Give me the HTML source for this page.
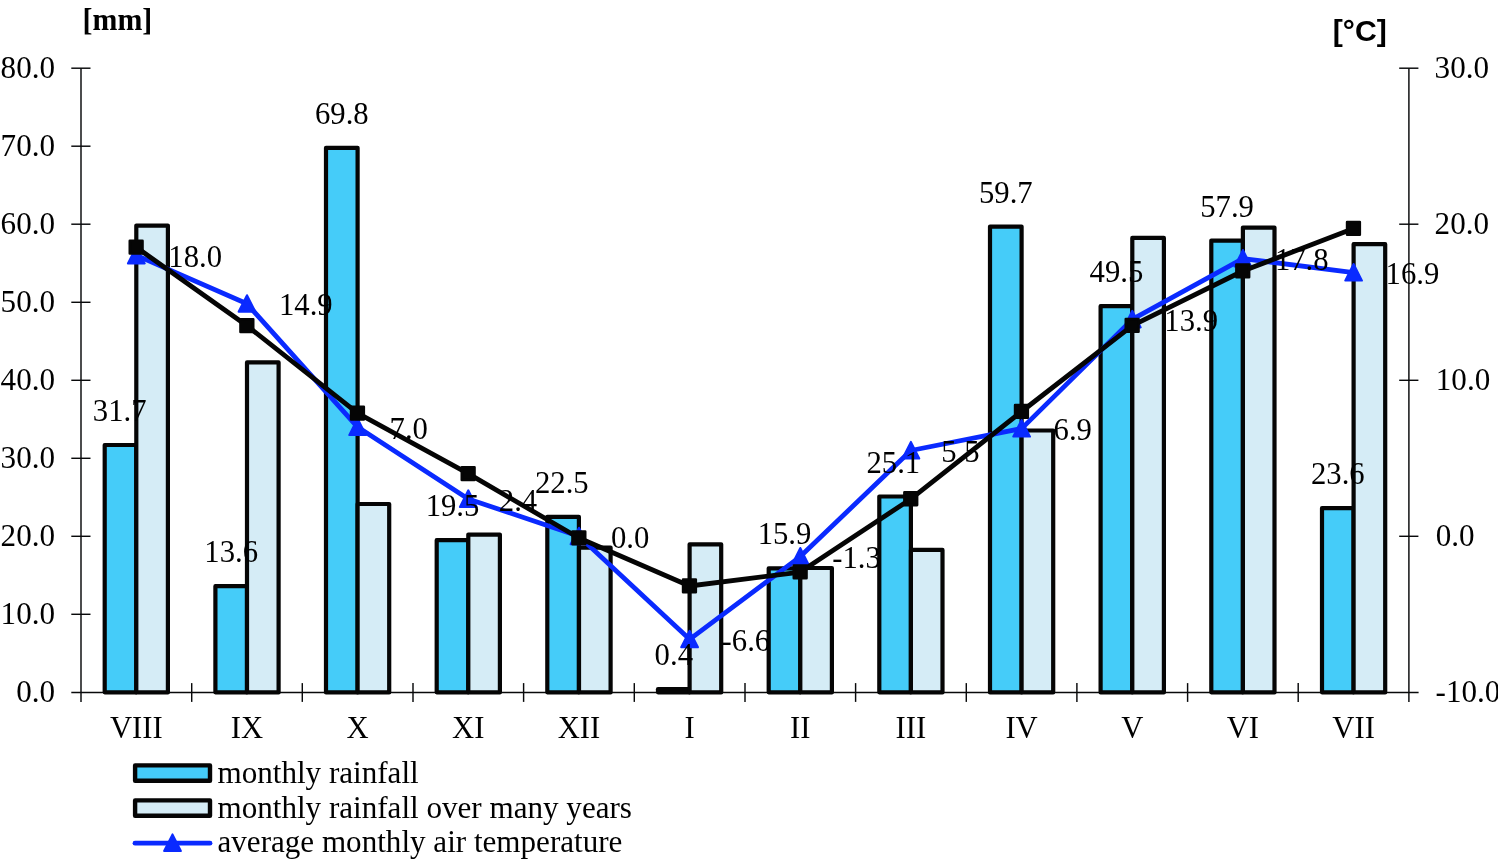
<!DOCTYPE html>
<html lang="en"><head><meta charset="utf-8"><title>Monthly rainfall and air temperature</title>
<style>html,body{margin:0;padding:0;background:#fff;overflow:hidden}svg{display:block;will-change:transform}text{font-family:"Liberation Serif","Times New Roman",serif;font-size:30.7px;fill:#000}.l{font-size:31.1px}.b{font-weight:bold}.s{font-family:"Liberation Sans",Arial,sans-serif;font-weight:bold}</style></head><body>
<svg width="1498" height="862" viewBox="0 0 1498 862">
<rect width="1498" height="862" fill="#fff"/>
<g stroke="#08090a" stroke-width="1.45" fill="none">
<line x1="81.0" y1="68.2" x2="81.0" y2="701.9"/>
<line x1="1408.9" y1="68.2" x2="1408.9" y2="701.9"/>
<line x1="71.3" y1="692.4" x2="1418.6" y2="692.4"/>
<line x1="71.3" y1="68.2" x2="90.5" y2="68.2"/>
<line x1="71.3" y1="146.2" x2="90.5" y2="146.2"/>
<line x1="71.3" y1="224.2" x2="90.5" y2="224.2"/>
<line x1="71.3" y1="302.3" x2="90.5" y2="302.3"/>
<line x1="71.3" y1="380.3" x2="90.5" y2="380.3"/>
<line x1="71.3" y1="458.3" x2="90.5" y2="458.3"/>
<line x1="71.3" y1="536.3" x2="90.5" y2="536.3"/>
<line x1="71.3" y1="614.3" x2="90.5" y2="614.3"/>
<line x1="1399.2" y1="68.2" x2="1418.4" y2="68.2"/>
<line x1="1399.2" y1="224.2" x2="1418.4" y2="224.2"/>
<line x1="1399.2" y1="380.3" x2="1418.4" y2="380.3"/>
<line x1="1399.2" y1="536.3" x2="1418.4" y2="536.3"/>
<line x1="191.7" y1="683.1" x2="191.7" y2="701.9"/>
<line x1="302.3" y1="683.1" x2="302.3" y2="701.9"/>
<line x1="413.0" y1="683.1" x2="413.0" y2="701.9"/>
<line x1="523.6" y1="683.1" x2="523.6" y2="701.9"/>
<line x1="634.3" y1="683.1" x2="634.3" y2="701.9"/>
<line x1="745.0" y1="683.1" x2="745.0" y2="701.9"/>
<line x1="855.6" y1="683.1" x2="855.6" y2="701.9"/>
<line x1="966.3" y1="683.1" x2="966.3" y2="701.9"/>
<line x1="1076.9" y1="683.1" x2="1076.9" y2="701.9"/>
<line x1="1187.6" y1="683.1" x2="1187.6" y2="701.9"/>
<line x1="1298.2" y1="683.1" x2="1298.2" y2="701.9"/>
</g>
<text class="l" x="55.0" y="78.2" text-anchor="end">80.0</text>
<text class="l" x="55.0" y="156.2" text-anchor="end">70.0</text>
<text class="l" x="55.0" y="234.2" text-anchor="end">60.0</text>
<text class="l" x="55.0" y="312.3" text-anchor="end">50.0</text>
<text class="l" x="55.0" y="390.3" text-anchor="end">40.0</text>
<text class="l" x="55.0" y="468.3" text-anchor="end">30.0</text>
<text class="l" x="55.0" y="546.3" text-anchor="end">20.0</text>
<text class="l" x="55.0" y="624.3" text-anchor="end">10.0</text>
<text class="l" x="55.0" y="702.4" text-anchor="end">0.0</text>
<text class="l" x="1434.6" y="78.2">30.0</text>
<text class="l" x="1434.6" y="234.2">20.0</text>
<text class="l" x="1435.8" y="390.3">10.0</text>
<text class="l" x="1435.8" y="546.3">0.0</text>
<text class="l" x="1435.6" y="702.4">-10.0</text>
<text x="136.3" y="738.0" text-anchor="middle">VIII</text>
<text x="247.0" y="738.0" text-anchor="middle">IX</text>
<text x="357.6" y="738.0" text-anchor="middle">X</text>
<text x="468.3" y="738.0" text-anchor="middle">XI</text>
<text x="579.0" y="738.0" text-anchor="middle">XII</text>
<text x="689.6" y="738.0" text-anchor="middle">I</text>
<text x="800.3" y="738.0" text-anchor="middle">II</text>
<text x="910.9" y="738.0" text-anchor="middle">III</text>
<text x="1021.6" y="738.0" text-anchor="middle">IV</text>
<text x="1132.3" y="738.0" text-anchor="middle">V</text>
<text x="1242.9" y="738.0" text-anchor="middle">VI</text>
<text x="1353.6" y="738.0" text-anchor="middle">VII</text>
<text class="b" x="82.6" y="30.2" style="font-size:30.5px" textLength="69.7" lengthAdjust="spacingAndGlyphs">[mm]</text>
<text class="s" x="1332.8" y="41.0" style="font-size:30.2px">[°C]</text>
<g stroke="#050505" stroke-width="4.2" stroke-linejoin="round">
<rect x="104.7" y="445.0" width="31.6" height="247.3" fill="#45ccf9"/>
<rect x="136.3" y="225.6" width="31.6" height="466.8" fill="#d5ecf6"/>
<rect x="215.4" y="586.2" width="31.6" height="106.1" fill="#45ccf9"/>
<rect x="247.0" y="362.4" width="31.6" height="330.0" fill="#d5ecf6"/>
<rect x="326.0" y="147.8" width="31.6" height="544.6" fill="#45ccf9"/>
<rect x="357.6" y="504.0" width="31.6" height="188.4" fill="#d5ecf6"/>
<rect x="436.7" y="540.2" width="31.6" height="152.1" fill="#45ccf9"/>
<rect x="468.3" y="534.6" width="31.6" height="157.8" fill="#d5ecf6"/>
<rect x="547.3" y="516.8" width="31.6" height="175.5" fill="#45ccf9"/>
<rect x="579.0" y="547.6" width="31.6" height="144.8" fill="#d5ecf6"/>
<rect x="658.0" y="689.2" width="31.6" height="3.1" fill="#45ccf9"/>
<rect x="689.6" y="544.3" width="31.6" height="148.1" fill="#d5ecf6"/>
<rect x="768.7" y="568.3" width="31.6" height="124.0" fill="#45ccf9"/>
<rect x="800.3" y="568.0" width="31.6" height="124.4" fill="#d5ecf6"/>
<rect x="879.3" y="496.5" width="31.6" height="195.8" fill="#45ccf9"/>
<rect x="910.9" y="549.9" width="31.6" height="142.5" fill="#d5ecf6"/>
<rect x="990.0" y="226.6" width="31.6" height="465.8" fill="#45ccf9"/>
<rect x="1021.6" y="430.5" width="31.6" height="261.9" fill="#d5ecf6"/>
<rect x="1100.6" y="306.2" width="31.6" height="386.2" fill="#45ccf9"/>
<rect x="1132.3" y="237.9" width="31.6" height="454.5" fill="#d5ecf6"/>
<rect x="1211.3" y="240.6" width="31.6" height="451.7" fill="#45ccf9"/>
<rect x="1242.9" y="227.6" width="31.6" height="464.8" fill="#d5ecf6"/>
<rect x="1322.0" y="508.2" width="31.6" height="184.1" fill="#45ccf9"/>
<rect x="1353.6" y="244.2" width="31.6" height="448.2" fill="#d5ecf6"/>
</g>
<polyline points="136.3,255.4 247.0,303.8 357.6,427.1 468.3,498.9 579.0,536.3 689.6,639.3 800.3,556.6 910.9,450.5 1021.6,428.6 1132.3,319.4 1242.9,258.6 1353.6,272.6" fill="none" stroke="#0a2aff" stroke-width="4.8" stroke-linejoin="round" stroke-linecap="round"/>
<path d="M136.3 246.8L144.7 263.4L127.9 263.4Z" fill="#0a2aff" stroke="#0a2aff" stroke-width="2" stroke-linejoin="round"/>
<path d="M247.0 295.2L255.4 311.8L238.6 311.8Z" fill="#0a2aff" stroke="#0a2aff" stroke-width="2" stroke-linejoin="round"/>
<path d="M357.6 418.5L366.0 435.1L349.2 435.1Z" fill="#0a2aff" stroke="#0a2aff" stroke-width="2" stroke-linejoin="round"/>
<path d="M468.3 490.3L476.7 506.9L459.9 506.9Z" fill="#0a2aff" stroke="#0a2aff" stroke-width="2" stroke-linejoin="round"/>
<path d="M579.0 527.7L587.4 544.3L570.6 544.3Z" fill="#0a2aff" stroke="#0a2aff" stroke-width="2" stroke-linejoin="round"/>
<path d="M689.6 630.7L698.0 647.3L681.2 647.3Z" fill="#0a2aff" stroke="#0a2aff" stroke-width="2" stroke-linejoin="round"/>
<path d="M800.3 548.0L808.7 564.6L791.9 564.6Z" fill="#0a2aff" stroke="#0a2aff" stroke-width="2" stroke-linejoin="round"/>
<path d="M910.9 441.9L919.3 458.5L902.5 458.5Z" fill="#0a2aff" stroke="#0a2aff" stroke-width="2" stroke-linejoin="round"/>
<path d="M1021.6 420.0L1030.0 436.6L1013.2 436.6Z" fill="#0a2aff" stroke="#0a2aff" stroke-width="2" stroke-linejoin="round"/>
<path d="M1132.3 310.8L1140.7 327.4L1123.9 327.4Z" fill="#0a2aff" stroke="#0a2aff" stroke-width="2" stroke-linejoin="round"/>
<path d="M1242.9 250.0L1251.3 266.6L1234.5 266.6Z" fill="#0a2aff" stroke="#0a2aff" stroke-width="2" stroke-linejoin="round"/>
<path d="M1353.6 264.0L1362.0 280.6L1345.2 280.6Z" fill="#0a2aff" stroke="#0a2aff" stroke-width="2" stroke-linejoin="round"/>
<polyline points="136.3,247.3 247.0,325.7 357.6,413.2 468.3,473.7 579.0,538.0 689.6,586.0 800.3,572.1 910.9,498.9 1021.6,411.5 1132.3,325.6 1242.9,271.0 1353.6,228.6" fill="none" stroke="#050505" stroke-width="4.8" stroke-linejoin="round" stroke-linecap="round"/>
<rect x="129.8" y="240.8" width="12.7" height="12.7" fill="#050505" stroke="#050505" stroke-width="2.6" stroke-linejoin="round"/>
<rect x="240.5" y="319.2" width="12.7" height="12.7" fill="#050505" stroke="#050505" stroke-width="2.6" stroke-linejoin="round"/>
<rect x="351.1" y="406.7" width="12.7" height="12.7" fill="#050505" stroke="#050505" stroke-width="2.6" stroke-linejoin="round"/>
<rect x="461.8" y="467.2" width="12.7" height="12.7" fill="#050505" stroke="#050505" stroke-width="2.6" stroke-linejoin="round"/>
<rect x="572.5" y="531.5" width="12.7" height="12.7" fill="#050505" stroke="#050505" stroke-width="2.6" stroke-linejoin="round"/>
<rect x="683.1" y="579.5" width="12.7" height="12.7" fill="#050505" stroke="#050505" stroke-width="2.6" stroke-linejoin="round"/>
<rect x="793.8" y="565.6" width="12.7" height="12.7" fill="#050505" stroke="#050505" stroke-width="2.6" stroke-linejoin="round"/>
<rect x="904.4" y="492.4" width="12.7" height="12.7" fill="#050505" stroke="#050505" stroke-width="2.6" stroke-linejoin="round"/>
<rect x="1015.1" y="405.0" width="12.7" height="12.7" fill="#050505" stroke="#050505" stroke-width="2.6" stroke-linejoin="round"/>
<rect x="1125.8" y="319.1" width="12.7" height="12.7" fill="#050505" stroke="#050505" stroke-width="2.6" stroke-linejoin="round"/>
<rect x="1236.4" y="264.5" width="12.7" height="12.7" fill="#050505" stroke="#050505" stroke-width="2.6" stroke-linejoin="round"/>
<rect x="1347.1" y="222.1" width="12.7" height="12.7" fill="#050505" stroke="#050505" stroke-width="2.6" stroke-linejoin="round"/>
<text x="119.7" y="421.0" text-anchor="middle">31.7</text>
<text x="231.2" y="562.2" text-anchor="middle">13.6</text>
<text x="341.8" y="123.8" text-anchor="middle">69.8</text>
<text x="452.5" y="516.2" text-anchor="middle">19.5</text>
<text x="561.8" y="492.8" text-anchor="middle">22.5</text>
<text x="673.8" y="665.2" text-anchor="middle">0.4</text>
<text x="784.5" y="544.3" text-anchor="middle">15.9</text>
<text x="893.3" y="473.4" text-anchor="middle">25.1</text>
<text x="1005.8" y="202.6" text-anchor="middle">59.7</text>
<text x="1116.4" y="282.2" text-anchor="middle">49.5</text>
<text x="1227.1" y="216.6" text-anchor="middle">57.9</text>
<text x="1337.8" y="484.2" text-anchor="middle">23.6</text>
<text x="168.3" y="267.0">18.0</text>
<text x="279.0" y="315.4">14.9</text>
<text x="389.6" y="438.7">7.0</text>
<text x="498.8" y="510.5">2.4</text>
<text x="611.0" y="547.9">0.0</text>
<text x="721.6" y="650.9">-6.6</text>
<text x="832.3" y="568.2">-1.3</text>
<text x="941.3" y="462.1">5.5</text>
<text x="1053.6" y="440.2">6.9</text>
<text x="1164.3" y="331.0">13.9</text>
<text x="1274.9" y="270.2">17.8</text>
<text x="1385.6" y="284.2">16.9</text>
<g stroke="#050505" stroke-width="4.4" stroke-linejoin="round">
<rect x="135.1" y="765.4" width="74.9" height="15.4" fill="#45ccf9"/>
<rect x="135.1" y="800.4" width="74.9" height="15.4" fill="#d5ecf6"/>
</g>
<line x1="135" y1="843.2" x2="210" y2="843.2" stroke="#0a2aff" stroke-width="4.8" stroke-linecap="round"/>
<path d="M172.5 834.4L180.9 851.0L164.1 851.0Z" fill="#0a2aff" stroke="#0a2aff" stroke-width="2" stroke-linejoin="round"/>
<text class="l" x="217.5" y="782.6">monthly rainfall</text>
<text class="l" x="217.5" y="817.9">monthly rainfall over many years</text>
<text class="l" x="217.5" y="851.6">average monthly air temperature</text>
</svg></body></html>
